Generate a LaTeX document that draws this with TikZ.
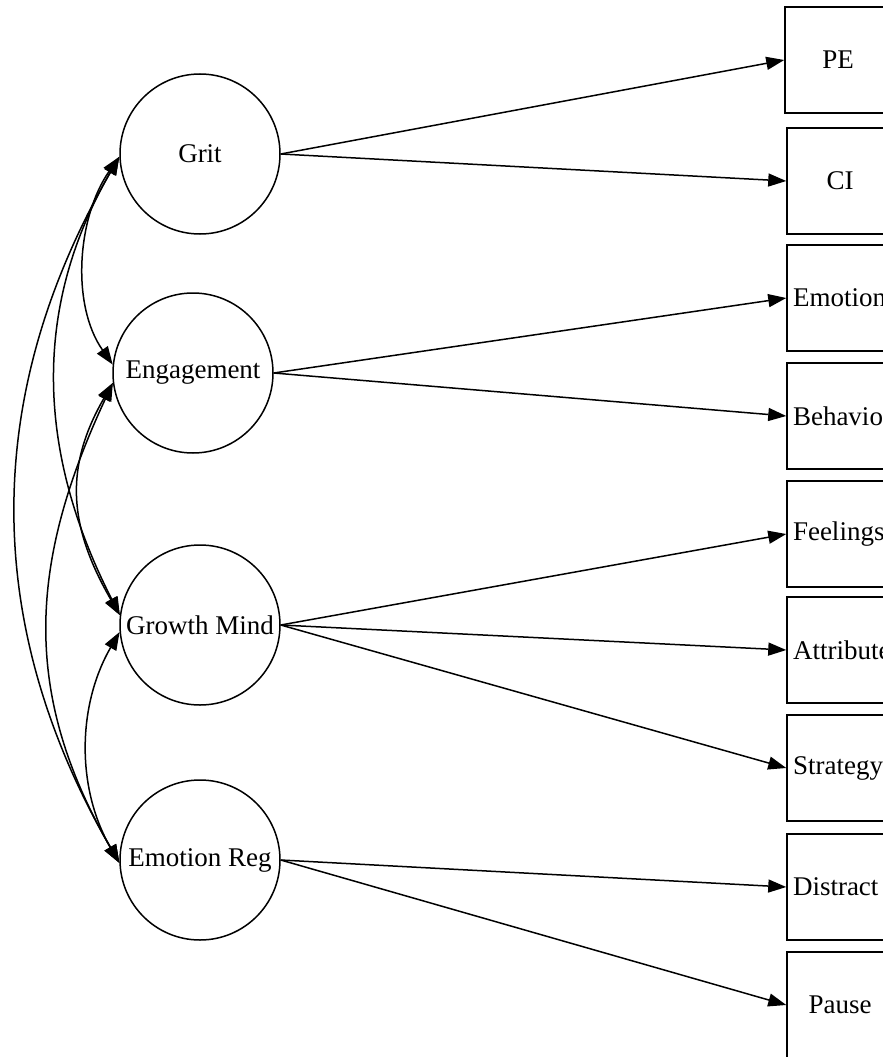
\documentclass[tikz,border=0pt]{standalone}
\usepackage{fontspec}
\setmainfont{Liberation Serif}
\usetikzlibrary{arrows.meta}

\tikzset{
  latent/.style={draw, circle, minimum size=160pt, inner sep=0pt},
  meas/.style={draw, rectangle, minimum width=106pt, minimum height=106pt, inner sep=0pt},
  cutlabel/.style={label={[anchor=west, inner sep=6pt]west:#1}},
}

\begin{document}
\begin{tikzpicture}[x=1pt, y=1pt, line width=1.5pt,
  >={Triangle[length=18pt,width=13pt]},
  every node/.style={font=\fontsize{27}{32}\selectfont}]
\useasboundingbox (0,0) rectangle (883,-1057);

% latent factors
\node [latent] (Grit) at (200,-154) {Grit};
\node [latent] (Eng) at (193,-373) {Engagement};
\node [latent] (Growth) at (200,-625) {Growth Mind};
\node [latent] (EmoReg) at (200,-860) {Emotion Reg};

% indicators
\node [meas] (PE) at (838,-60) {PE};
\node [meas] (CI) at (840,-181) {CI};
\node [meas, cutlabel=Emotion] (Emo) at (840,-298) {};
\node [meas, cutlabel=Behavior] (Beh) at (840,-416) {};
\node [meas, cutlabel=Feelings] (Feel) at (840,-534) {};
\node [meas, cutlabel=Attribute] (Attr) at (840,-650) {};
\node [meas, cutlabel=Strategy] (Strat) at (840,-768) {};
\node [meas, cutlabel=Distract] (Distr) at (840,-887) {};
\node [meas] (Pause) at (840,-1005) {Pause};

% loadings
\foreach \a/\b in {Grit/PE, Grit/CI, Eng/Emo, Eng/Beh, Growth/Feel, Growth/Attr,
  Growth/Strat, EmoReg/Distr, EmoReg/Pause}
  \draw [->] (\a.east) -- (\b.west);

% covariances
\draw [<->] (Grit.182) to[out=235, in=125, looseness=0.9] (Eng.174);
\draw [<->] (Grit.182) to[out=240, in=117] (Growth.173);
\draw [<->] (Grit.182) to[out=240, in=120] (EmoReg.182);
\draw [<->] (Eng.187) to[out=240, in=120, looseness=1.1] (Growth.173);
\draw [<->] (Eng.187) to[out=245, in=120, looseness=1.05] (EmoReg.182);
\draw [<->] (Growth.185) to[out=240, in=120, looseness=0.95] (EmoReg.182);

\end{tikzpicture}
\end{document}
